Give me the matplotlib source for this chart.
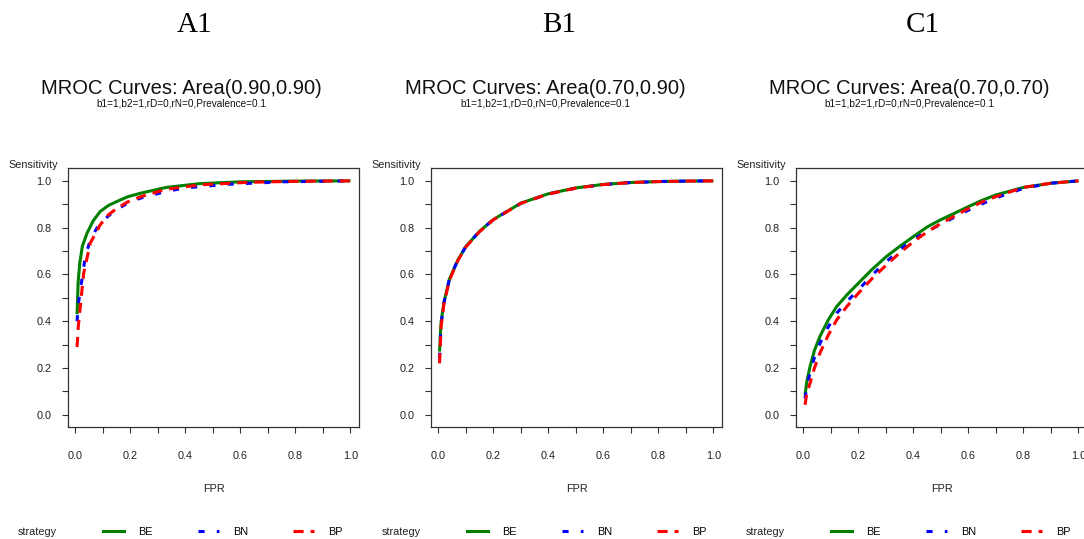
import numpy as np
import matplotlib.pyplot as plt
from matplotlib.lines import Line2D

plt.rcParams['font.family'] = ['Liberation Sans', 'DejaVu Sans']

panel_tags = ["A1", "B1", "C1"]
panel_titles = ["MROC Curves: Area(0.90,0.90)",
                "MROC Curves: Area(0.70,0.90)",
                "MROC Curves: Area(0.70,0.70)"]
subtitle = "b1=1,b2=1,rD=0,rN=0,Prevalence=0.1"
strategies = ["BE", "BN", "BP"]
colors = {"BE": "#008000", "BN": "#0000FF", "BP": "#FF0000"}

x_ticks = [0.0, 0.1, 0.2, 0.3, 0.4, 0.5, 0.6, 0.7, 0.8, 0.9, 1.0]
x_labels = ["0.0", "", "0.2", "", "0.4", "", "0.6", "", "0.8", "", "1.0"]
y_ticks = [0.0, 0.1, 0.2, 0.3, 0.4, 0.5, 0.6, 0.7, 0.8, 0.9, 1.0]
y_labels = ["0.0", "", "0.2", "", "0.4", "", "0.6", "", "0.8", "", "1.0"]

# A1 curves
a1_be_fpr = [0.006, 0.010, 0.016, 0.025, 0.042, 0.065, 0.09, 0.12, 0.151, 0.19, 0.236, 0.33, 0.45, 0.6, 0.8, 1.0]
a1_be_sens = [0.43, 0.57, 0.65, 0.72, 0.776, 0.83, 0.869, 0.895, 0.912, 0.932, 0.947, 0.972, 0.988, 0.996, 0.999, 1.0]
a1_bn_fpr = [0.006, 0.010, 0.018, 0.036, 0.055, 0.078, 0.11, 0.139, 0.19, 0.236, 0.33, 0.40, 0.55, 0.755, 1.0]
a1_bn_sens = [0.40, 0.47, 0.534, 0.677, 0.75, 0.798, 0.84, 0.869, 0.905, 0.926, 0.955, 0.97, 0.985, 0.996, 1.0]
a1_bp_fpr = [0.006, 0.010, 0.014, 0.030, 0.054, 0.09, 0.12, 0.151, 0.19, 0.236, 0.33, 0.453, 0.63, 0.8, 1.0]
a1_bp_sens = [0.29, 0.37, 0.42, 0.605, 0.734, 0.812, 0.855, 0.883, 0.91, 0.932, 0.964, 0.983, 0.994, 0.998, 1.0]

# B1 curves
b1_be_fpr = [0.004, 0.007, 0.01, 0.02, 0.04, 0.07, 0.1, 0.15, 0.2, 0.3, 0.4, 0.5, 0.6, 0.7, 0.8, 0.9, 1.0]
b1_be_sens = [0.27, 0.34, 0.40, 0.48, 0.58, 0.66, 0.72, 0.785, 0.835, 0.905, 0.945, 0.97, 0.985, 0.993, 0.997, 0.999, 1.0]
b1_bn_fpr = [0.004, 0.007, 0.01, 0.02, 0.04, 0.07, 0.1, 0.15, 0.2, 0.3, 0.4, 0.5, 0.6, 0.7, 0.8, 0.9, 1.0]
b1_bn_sens = [0.24, 0.32, 0.39, 0.48, 0.58, 0.66, 0.72, 0.785, 0.835, 0.904, 0.944, 0.969, 0.984, 0.993, 0.997, 0.999, 1.0]
b1_bp_fpr = [0.004, 0.007, 0.01, 0.02, 0.04, 0.07, 0.1, 0.15, 0.2, 0.3, 0.4, 0.5, 0.6, 0.7, 0.8, 0.9, 1.0]
b1_bp_sens = [0.22, 0.30, 0.38, 0.475, 0.575, 0.658, 0.718, 0.783, 0.834, 0.904, 0.944, 0.969, 0.984, 0.993, 0.997, 0.999, 1.0]

# C1 curves
c1_be_fpr = [0.006, 0.012, 0.024, 0.04, 0.06, 0.09, 0.121, 0.16, 0.2, 0.25, 0.302, 0.35, 0.4, 0.45, 0.496, 0.55, 0.6, 0.65, 0.7, 0.8, 0.9, 1.0]
c1_be_sens = [0.085, 0.14, 0.206, 0.275, 0.335, 0.405, 0.463, 0.515, 0.563, 0.622, 0.677, 0.72, 0.762, 0.803, 0.832, 0.862, 0.89, 0.917, 0.94, 0.972, 0.99, 1.0]
c1_bn_fpr = [0.006, 0.012, 0.024, 0.04, 0.06, 0.09, 0.121, 0.16, 0.2, 0.25, 0.302, 0.35, 0.4, 0.45, 0.496, 0.55, 0.6, 0.65, 0.7, 0.8, 0.9, 1.0]
c1_bn_sens = [0.07, 0.12, 0.18, 0.245, 0.305, 0.375, 0.434, 0.487, 0.534, 0.598, 0.655, 0.705, 0.75, 0.784, 0.812, 0.845, 0.875, 0.902, 0.927, 0.968, 0.99, 1.0]
c1_bp_fpr = [0.006, 0.012, 0.024, 0.04, 0.06, 0.09, 0.121, 0.16, 0.2, 0.25, 0.302, 0.35, 0.4, 0.45, 0.496, 0.55, 0.6, 0.65, 0.7, 0.8, 0.9, 1.0]
c1_bp_sens = [0.043, 0.09, 0.135, 0.2, 0.264, 0.34, 0.406, 0.466, 0.52, 0.583, 0.641, 0.692, 0.74, 0.782, 0.815, 0.85, 0.882, 0.91, 0.933, 0.972, 0.99, 1.0]

curves = [
    {"BE": (a1_be_fpr, a1_be_sens), "BN": (a1_bn_fpr, a1_bn_sens), "BP": (a1_bp_fpr, a1_bp_sens)},
    {"BE": (b1_be_fpr, b1_be_sens), "BN": (b1_bn_fpr, b1_bn_sens), "BP": (b1_bp_fpr, b1_bp_sens)},
    {"BE": (c1_be_fpr, c1_be_sens), "BN": (c1_bn_fpr, c1_bn_sens), "BP": (c1_bp_fpr, c1_bp_sens)},
]

W, H = 1084, 539
fig = plt.figure(figsize=(W / 100, H / 100), dpi=100)

lw = 2.2
styles = {"BE": dict(ls="-"), "BN": dict(ls=(0, (2, 4))), "BP": dict(ls=(0, (3.3, 2.3)))}
box_left = [68, 431, 796]
panel_step = 364
box_w, box_top, box_bot = 291, 168, 427
grey = "#333333"
small = 7.8

for i in range(3):
    ax = fig.add_axes([box_left[i] / W, 1 - box_bot / H, box_w / W, (box_bot - box_top) / H])
    for s in strategies:
        fx, sy = curves[i][s]
        ax.plot(fx, sy, color=colors[s], lw=lw, solid_capstyle="butt",
                solid_joinstyle="round", **styles[s])
    ax.set_xlim(-0.027, 1.031)
    ax.set_ylim(-0.052, 1.055)
    ax.set_xticks(x_ticks)
    ax.set_xticklabels(x_labels)
    ax.set_yticks(y_ticks)
    ax.set_yticklabels(y_labels)
    ax.tick_params(direction="out", length=4, width=0.8, color=grey,
                   labelsize=small, labelcolor="#222222")
    ax.tick_params(axis="x", pad=13)
    ax.tick_params(axis="y", pad=8)
    for sp in ax.spines.values():
        sp.set_color(grey)
        sp.set_linewidth(0.9)

    off = i * panel_step
    cx = box_left[i] + box_w / 2
    fig.text((195 + off) / W, 1 - 25 / H, panel_tags[i], family="Liberation Serif",
             fontsize=21, ha="center", va="center")
    fig.text((181 + off) / W, 1 - 88 / H, panel_titles[i], fontsize=14.5,
             ha="center", va="center", color="#111111")
    fig.text((181 + off) / W, 1 - 103 / H, subtitle, fontsize=7.2,
             ha="center", va="center", color="#111111")
    fig.text((box_left[i] - 60) / W, 1 - 165 / H, "Sensitivity", fontsize=small,
             ha="left", va="center", color="#222222")
    fig.text(cx / W, 1 - 489 / H, "FPR", fontsize=small, ha="center", va="center",
             color="#222222")

    # legend row under each panel
    fig.text((37 + off) / W, 1 - 532 / H, "strategy", fontsize=small, ha="center",
             va="center", color="#222222")
    handles = [Line2D([], [], color=colors[s], lw=lw, **styles[s]) for s in strategies]
    fig.legend(handles, strategies, loc="center left",
               bbox_to_anchor=((103 + off) / W, 1 - 532 / H), ncol=3,
               frameon=False, fontsize=small, handlelength=1.95,
               handletextpad=1.3, columnspacing=4.15, borderaxespad=0,
               borderpad=0)

fig.savefig("out.png", dpi=100)
